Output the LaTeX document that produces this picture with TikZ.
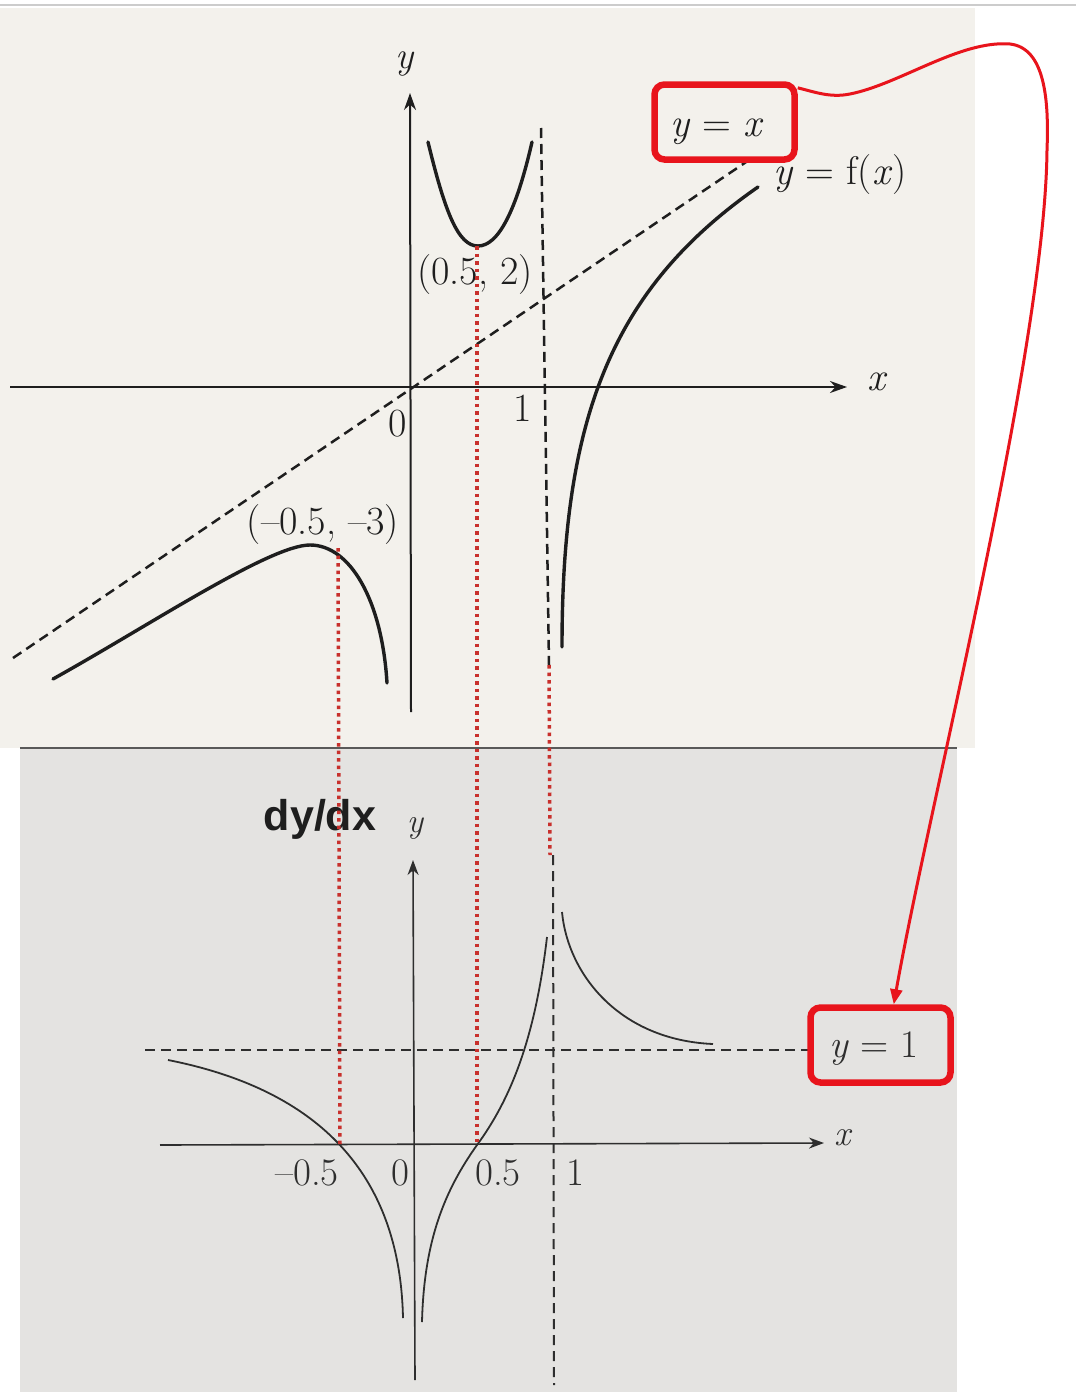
\documentclass[tikz,border=0pt]{standalone}
\usepackage{fontspec}
\newfontfamily\sansb{Liberation Sans}
\usetikzlibrary{arrows.meta}
\definecolor{paper}{HTML}{F3F1EC}
\definecolor{paperlow}{HTML}{E4E3E1}
\definecolor{hl}{HTML}{E8141C}
\definecolor{dotred}{HTML}{C8302C}
\definecolor{ink}{HTML}{1E1E1E}
\definecolor{inklow}{HTML}{2E2E2E}
\begin{document}
\begin{tikzpicture}[x=1pt,y=-1pt,
  axisline/.style={line width=2pt, ink, -{Stealth[length=17pt,width=12pt]}},
  axislow/.style={line width=1.6pt, inklow, -{Stealth[length=15pt,width=11pt]}},
  curveA/.style={line width=3.4pt, ink, line cap=round},
  curveB/.style={line width=1.8pt, inklow},
  asymA/.style={line width=2.5pt, ink, dash pattern=on 10pt off 6pt},
  asymB/.style={line width=2pt, inklow, dash pattern=on 10pt off 6pt},
  guide/.style={line width=3.5pt, dotred, dash pattern=on 3.5pt off 4pt},
  lbl/.style={font=\fontsize{40}{44}\selectfont, text=ink, inner sep=0pt},
  lbllow/.style={font=\fontsize{39}{44}\selectfont, text=inklow, inner sep=0pt},
  hlbox/.style={draw=hl, line width=6.5pt, rounded corners=10pt, minimum width=140pt, minimum height=75pt, inner sep=0pt},
]
\useasboundingbox (0,0) rectangle (1076,1392);
% backgrounds
\fill[white] (0,0) rectangle (1076,1392);
\fill[paper] (0,8) rectangle (975,748);
\fill[paperlow] (20,748) rectangle (957,1392);
\draw[line width=1.5pt, black!20] (0,5) -- (1076,5);
\draw[line width=2pt, black!65] (20,748) -- (957,748);

% ---------- top graph ----------
\coordinate (tyb) at (411,712);
\coordinate (tyt) at (410,93);
\coordinate (txl) at (10,387);
\coordinate (txr) at (847,387);
\coordinate (asTop) at (541,128);
\coordinate (asBot) at (549,665);
\coordinate (dxl) at (13,658);
\coordinate (dxr) at (752,158);
\coordinate (maxpt) at (338,548);
\coordinate (minpt) at (477,246);

\draw[axisline] (tyb) -- (tyt);
\draw[axisline] (txl) -- (txr);
\draw[asymA] (asTop) -- (asBot);
\draw[asymA] (dxl) -- (dxr);

\draw[curveA] (428,142) .. controls (445,212) and (458,246) .. (478,246)
  .. controls (498,246) and (516,212) .. (532,142);
\draw[curveA] (53,679) .. controls (150,625) and (270,545) .. (310,545)
  .. controls (350,545) and (382,600) .. (387,683);
\draw[curveA] (562,647) .. controls (562,420) and (610,290) .. (758,187);

\node[lbl, font=\fontsize{38}{42}\selectfont\itshape] (ty) at (405,64) {y};
\node[lbl, font=\fontsize{40}{44}\selectfont\itshape] (tx) at (876,382) {x};
\node[lbl] (t0) at (398,424) {0};
\node[lbl] (t1) at (523,408) {1};
\node[lbl] (pmin) at (475,275) {(0.5, 2)};
\node[lbl] (pmax) at (323,525) {(--0.5, --3)};
\node[lbl] (fx) at (840,175) {\textit{y} = f(\textit{x})};

% highlighted label y = x
\node[hlbox] (yx) at (724.5,122) {};
\node[lbl] (yxt) at (717,132) {\textit{y} = \textit{x}};

% ---------- lower graph ----------
\coordinate (byb) at (415,1380);
\coordinate (byt) at (413,860);
\coordinate (bxl) at (160,1145);
\coordinate (bxr) at (824,1143);
\coordinate (bas1) at (553,855);
\coordinate (bas2) at (554,1385);
\coordinate (hl1) at (145,1050);
\coordinate (hl2) at (808,1050);
\coordinate (z1) at (340,1145);
\coordinate (z2) at (477,1145);
\coordinate (asLow) at (550,855);

\draw[asymB] (hl1) -- (hl2);
\draw[asymB] (bas1) -- (bas2);
\draw[axislow] (bxl) -- (bxr);
\draw[axislow] (byb) -- (byt);

\draw[curveB] (168,1060) .. controls (320,1090) and (400,1175) .. (403,1318);
\draw[curveB] (422,1322) .. controls (424,1240) and (445,1190) .. (477,1145)
  .. controls (510,1100) and (535,1040) .. (547,937);
\draw[curveB] (562,912) .. controls (568,975) and (620,1040) .. (713,1044);

\node[font=\sansb\bfseries\fontsize{43}{48}\selectfont, text=ink, inner sep=0pt] (dydx) at (320,819) {dy/dx};
\node[lbllow, font=\fontsize{34}{38}\selectfont\itshape] (by) at (415,828) {y};
\node[lbllow, font=\fontsize{36}{40}\selectfont\itshape] (bx) at (843,1138) {x};
\node[lbllow] (lm05) at (307,1173) {--0.5};
\node[lbllow] (l0) at (400,1173) {0};
\node[lbllow] (l05) at (498,1173) {0.5};
\node[lbllow] (l1) at (575,1173) {1};

% highlighted label y = 1
\node[hlbox] (y1) at (880.5,1045) {};
\node[lbllow] (y1t) at (874,1049) {\textit{y} = 1};

% ---------- red dotted guides ----------
\draw[guide] (maxpt) -- (z1);
\draw[guide] (minpt) -- (z2);
\draw[guide] (asBot) -- (asLow);

% ---------- red connector ----------
\draw[hl, line width=3pt, -{Triangle[length=15pt,width=12pt]}]
  (yx.25) .. controls (815,92) and (830,98) .. (850,94)
  .. controls (900,84) and (960,40) .. (1010,44)
  .. controls (1045,48) and (1049,100) .. (1047,150)
  .. controls (1045,350) and (930,800) .. (y1.72);
\end{tikzpicture}
\end{document}
